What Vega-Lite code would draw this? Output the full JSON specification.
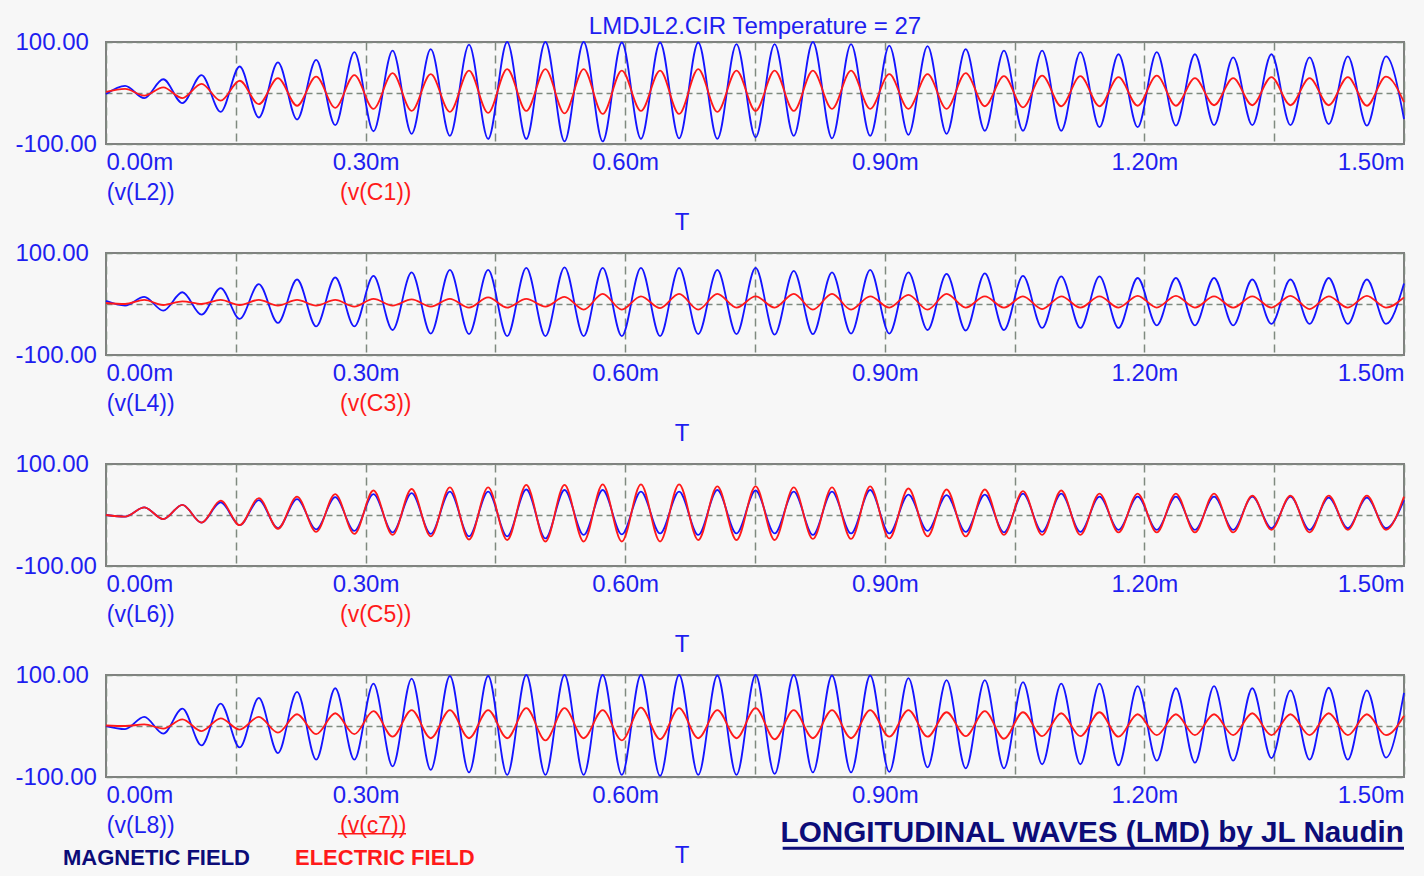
{
  "$schema": "https://vega.github.io/schema/vega-lite/v6.json",
  "autosize": {"type": "pad"},
  "padding": {"left": 14, "top": 14, "right": 19, "bottom": 8},
  "background": "#f7f7f7",
  "config": {
    "font": "Liberation Sans",
    "view": {"stroke": "#808080", "strokeWidth": 2},
    "axis": {"labelFont": "Liberation Sans", "labelFontSize": 24, "labelColor": "#1e1ef0", "domain": false, "ticks": false, "tickSize": 0, "gridColor": "#7f8a7f", "gridWidth": 1.5, "labelOverlap": false},
    "axisX": {"labelPadding": 6, "labelFlush": true, "gridDash": [8, 5]},
    "axisY": {"labelAlign": "left", "labelPadding": 91, "labelBaseline": "middle", "labelFlush": false, "gridDash": [6, 4]},
    "title": {"font": "Liberation Sans", "fontSize": 24, "fontWeight": "normal", "color": "#1e1ef0", "offset": -9, "baseline": "alphabetic"}
  },
  "data": {"values": [
{"t":0,"b1":-2,"r1":2,"b2":6,"r2":2,"b3":0,"r3":0,"b4":0,"r4":1},
{"t":0.0221,"b1":14,"r1":8,"b2":-3,"r2":0,"b3":-3,"r3":-3,"b4":-6,"r4":0},
{"t":0.0442,"b1":-10,"r1":-5,"b2":14,"r2":8,"b3":15,"r3":15,"b4":18,"r4":3},
{"t":0.0662,"b1":27,"r1":11,"b2":-13,"r2":-2,"b3":-8,"r3":-8,"b4":-15,"r4":-5},
{"t":0.0883,"b1":-20,"r1":-10,"b2":23,"r2":5,"b3":20,"r3":20,"b4":34,"r4":13},
{"t":0.1104,"b1":35,"r1":18,"b2":-21,"r2":0,"b3":-15,"r3":-15,"b4":-38,"r4":-10},
{"t":0.1325,"b1":-37,"r1":-15,"b2":31,"r2":8,"b3":25,"r3":28,"b4":44,"r4":15},
{"t":0.1545,"b1":52,"r1":24,"b2":-29,"r2":-2,"b3":-20,"r3":-20,"b4":-42,"r4":-7},
{"t":0.1766,"b1":-48,"r1":-22,"b2":39,"r2":8,"b3":29,"r3":33,"b4":55,"r4":18},
{"t":0.1987,"b1":60,"r1":29,"b2":-37,"r2":-3,"b3":-26,"r3":-27,"b4":-53,"r4":-13},
{"t":0.2208,"b1":-52,"r1":-25,"b2":48,"r2":8,"b3":31,"r3":36,"b4":67,"r4":23},
{"t":0.2429,"b1":65,"r1":32,"b2":-44,"r2":-3,"b3":-28,"r3":-33,"b4":-66,"r4":-16},
{"t":0.2649,"b1":-63,"r1":-29,"b2":52,"r2":8,"b3":35,"r3":41,"b4":74,"r4":25},
{"t":0.2870,"b1":80,"r1":35,"b2":-44,"r2":-5,"b3":-31,"r3":-37,"b4":-66,"r4":-16},
{"t":0.3091,"b1":-75,"r1":-31,"b2":55,"r2":10,"b3":41,"r3":48,"b4":83,"r4":29},
{"t":0.3312,"b1":83,"r1":39,"b2":-51,"r2":-3,"b3":-34,"r3":-39,"b4":-79,"r4":-21},
{"t":0.3532,"b1":-80,"r1":-35,"b2":62,"r2":9,"b3":43,"r3":51,"b4":93,"r4":31},
{"t":0.3753,"b1":86,"r1":37,"b2":-58,"r2":-5,"b3":-37,"r3":-42,"b4":-86,"r4":-24},
{"t":0.3974,"b1":-84,"r1":-37,"b2":67,"r2":10,"b3":46,"r3":54,"b4":98,"r4":31},
{"t":0.4195,"b1":95,"r1":44,"b2":-59,"r2":-7,"b3":-42,"r3":-48,"b4":-91,"r4":-24},
{"t":0.4416,"b1":-90,"r1":-39,"b2":67,"r2":13,"b3":46,"r3":54,"b4":98,"r4":31},
{"t":0.4636,"b1":100,"r1":47,"b2":-63,"r2":-7,"b3":-42,"r3":-49,"b4":-96,"r4":-24},
{"t":0.4857,"b1":-90,"r1":-35,"b2":71,"r2":10,"b3":50,"r3":59,"b4":100,"r4":35},
{"t":0.5078,"b1":100,"r1":47,"b2":-63,"r2":-5,"b3":-46,"r3":-52,"b4":-96,"r4":-28},
{"t":0.5299,"b1":-95,"r1":-40,"b2":72,"r2":14,"b3":49,"r3":59,"b4":100,"r4":35},
{"t":0.5520,"b1":100,"r1":47,"b2":-63,"r2":-11,"b3":-39,"r3":-52,"b4":-96,"r4":-24},
{"t":0.5740,"b1":-95,"r1":-41,"b2":71,"r2":20,"b3":49,"r3":60,"b4":100,"r4":31},
{"t":0.5961,"b1":99,"r1":44,"b2":-63,"r2":-11,"b3":-38,"r3":-52,"b4":-96,"r4":-28},
{"t":0.6182,"b1":-90,"r1":-35,"b2":71,"r2":15,"b3":46,"r3":60,"b4":100,"r4":36},
{"t":0.6403,"b1":99,"r1":44,"b2":-63,"r2":-8,"b3":-36,"r3":-52,"b4":-98,"r4":-26},
{"t":0.6623,"b1":-89,"r1":-41,"b2":71,"r2":20,"b3":46,"r3":60,"b4":100,"r4":35},
{"t":0.6844,"b1":99,"r1":47,"b2":-59,"r2":-11,"b3":-39,"r3":-49,"b4":-96,"r4":-24},
{"t":0.7065,"b1":-90,"r1":-37,"b2":67,"r2":20,"b3":49,"r3":56,"b4":99,"r4":31},
{"t":0.7286,"b1":96,"r1":44,"b2":-59,"r2":-7,"b3":-36,"r3":-49,"b4":-96,"r4":-24},
{"t":0.7507,"b1":-87,"r1":-35,"b2":71,"r2":15,"b3":48,"r3":56,"b4":100,"r4":35},
{"t":0.7727,"b1":96,"r1":44,"b2":-60,"r2":-7,"b3":-36,"r3":-49,"b4":-94,"r4":-26},
{"t":0.7948,"b1":-84,"r1":-35,"b2":65,"r2":20,"b3":46,"r3":54,"b4":100,"r4":31},
{"t":0.8169,"b1":100,"r1":44,"b2":-59,"r2":-11,"b3":-39,"r3":-47,"b4":-91,"r4":-24},
{"t":0.8390,"b1":-89,"r1":-31,"b2":62,"r2":20,"b3":46,"r3":54,"b4":99,"r4":31},
{"t":0.8610,"b1":96,"r1":44,"b2":-58,"r2":-11,"b3":-36,"r3":-47,"b4":-91,"r4":-24},
{"t":0.8831,"b1":-84,"r1":-31,"b2":67,"r2":15,"b3":49,"r3":56,"b4":99,"r4":31},
{"t":0.9052,"b1":93,"r1":37,"b2":-58,"r2":-7,"b3":-36,"r3":-46,"b4":-90,"r4":-21},
{"t":0.9273,"b1":-82,"r1":-31,"b2":62,"r2":18,"b3":40,"r3":52,"b4":94,"r4":31},
{"t":0.9494,"b1":92,"r1":37,"b2":-51,"r2":-11,"b3":-31,"r3":-42,"b4":-81,"r4":-21},
{"t":0.9714,"b1":-80,"r1":-31,"b2":59,"r2":20,"b3":39,"r3":50,"b4":90,"r4":27},
{"t":0.9935,"b1":86,"r1":39,"b2":-52,"r2":-7,"b3":-33,"r3":-42,"b4":-83,"r4":-20},
{"t":1.0156,"b1":-74,"r1":-26,"b2":60,"r2":15,"b3":40,"r3":50,"b4":90,"r4":29},
{"t":1.0377,"b1":83,"r1":33,"b2":-51,"r2":-7,"b3":-34,"r3":-39,"b4":-83,"r4":-25},
{"t":1.0597,"b1":-74,"r1":-28,"b2":55,"r2":15,"b3":42,"r3":47,"b4":86,"r4":27},
{"t":1.0818,"b1":83,"r1":34,"b2":-47,"r2":-10,"b3":-33,"r3":-39,"b4":-75,"r4":-20},
{"t":1.1039,"b1":-74,"r1":-26,"b2":54,"r2":15,"b3":42,"r3":48,"b4":83,"r4":25},
{"t":1.1260,"b1":80,"r1":33,"b2":-47,"r2":-7,"b3":-33,"r3":-39,"b4":-75,"r4":-20},
{"t":1.1481,"b1":-67,"r1":-26,"b2":54,"r2":15,"b3":36,"r3":42,"b4":83,"r4":27},
{"t":1.1701,"b1":76,"r1":31,"b2":-47,"r2":-7,"b3":-29,"r3":-34,"b4":-77,"r4":-21},
{"t":1.1922,"b1":-67,"r1":-25,"b2":51,"r2":16,"b3":36,"r3":42,"b4":78,"r4":23},
{"t":1.2143,"b1":80,"r1":34,"b2":-42,"r2":-7,"b3":-29,"r3":-34,"b4":-68,"r4":-18},
{"t":1.2364,"b1":-64,"r1":-25,"b2":51,"r2":16,"b3":36,"r3":42,"b4":74,"r4":23},
{"t":1.2584,"b1":76,"r1":29,"b2":-42,"r2":-7,"b3":-29,"r3":-34,"b4":-72,"r4":-18},
{"t":1.2805,"b1":-63,"r1":-24,"b2":51,"r2":15,"b3":36,"r3":42,"b4":78,"r4":23},
{"t":1.3026,"b1":70,"r1":29,"b2":-42,"r2":-7,"b3":-29,"r3":-34,"b4":-68,"r4":-18},
{"t":1.3247,"b1":-63,"r1":-24,"b2":48,"r2":15,"b3":36,"r3":38,"b4":74,"r4":25},
{"t":1.3468,"b1":76,"r1":31,"b2":-39,"r2":-7,"b3":-26,"r3":-29,"b4":-63,"r4":-18},
{"t":1.3688,"b1":-63,"r1":-24,"b2":48,"r2":16,"b3":36,"r3":38,"b4":70,"r4":23},
{"t":1.3909,"b1":70,"r1":29,"b2":-39,"r2":-10,"b3":-29,"r3":-34,"b4":-66,"r4":-18},
{"t":1.4130,"b1":-61,"r1":-24,"b2":51,"r2":15,"b3":34,"r3":38,"b4":75,"r4":25},
{"t":1.4351,"b1":72,"r1":31,"b2":-39,"r2":-7,"b3":-26,"r3":-29,"b4":-66,"r4":-18},
{"t":1.4571,"b1":-64,"r1":-25,"b2":48,"r2":16,"b3":34,"r3":38,"b4":70,"r4":23},
{"t":1.4792,"b1":72,"r1":32,"b2":-39,"r2":-7,"b3":-26,"r3":-29,"b4":-62,"r4":-18},
{"t":1.5,"b1":-51,"r1":-18,"b2":40,"r2":13,"b3":29,"r3":36,"b4":65,"r4":20}
  ]},
  "spacing": 109,
  "bounds": "flush",
  "vconcat": [
    {
      "width": 1298, "height": 102,
      "title": {"text": "LMDJL2.CIR Temperature = 27"},
      "layer": [
        {"mark": {"type": "line", "color": "#1414ff", "strokeWidth": 1.8, "interpolate": "monotone"},
         "encoding": {
           "x": {"field": "t", "type": "quantitative", "title": null, "scale": {"domain": [0, 1.5], "nice": false, "zero": false},
                 "axis": {"values": [0, 0.15, 0.3, 0.45, 0.6, 0.75, 0.9, 1.05, 1.2, 1.35, 1.5], "labelExpr": "round(datum.value*100) % 30 === 0 ? format(datum.value, '.2f') + 'm' : ''", "grid": true}},
           "y": {"field": "b1", "type": "quantitative", "title": null, "scale": {"domain": [-100, 100], "nice": false, "zero": false},
                 "axis": {"values": [-100, 0, 100], "labelExpr": "datum.value === 0 ? '' : (datum.value > 0 ? '100.00' : '-100.00')", "grid": true}}
         }},
        {"mark": {"type": "line", "color": "#ff1a1a", "strokeWidth": 1.8, "interpolate": "monotone"},
         "encoding": {"x": {"field": "t", "type": "quantitative", "title": null}, "y": {"field": "r1", "type": "quantitative", "title": null}}},
        {"data": {"values": [{}]}, "mark": {"type": "text", "text": "(v(L2))", "align": "left", "baseline": "alphabetic", "fontSize": 23, "color": "#1e1ef0"},
         "encoding": {"x": {"datum": 0.001, "type": "quantitative", "title": null}, "y": {"datum": -209.8, "type": "quantitative", "title": null}}},
        {"data": {"values": [{}]}, "mark": {"type": "text", "text": "(v(C1))", "align": "left", "baseline": "alphabetic", "fontSize": 23, "color": "#ff1a1a"},
         "encoding": {"x": {"datum": 0.2704, "type": "quantitative", "title": null}, "y": {"datum": -209.8, "type": "quantitative", "title": null}}},
        {"data": {"values": [{}]}, "mark": {"type": "text", "text": "T", "align": "center", "baseline": "alphabetic", "fontSize": 24, "color": "#1e1ef0"},
         "encoding": {"x": {"datum": 0.6657, "type": "quantitative", "title": null}, "y": {"datum": -268.6, "type": "quantitative", "title": null}}}
      ]
    },
    {
      "width": 1298, "height": 102,
      "layer": [
        {"mark": {"type": "line", "color": "#1414ff", "strokeWidth": 1.8, "interpolate": "monotone"},
         "encoding": {
           "x": {"field": "t", "type": "quantitative", "title": null, "scale": {"domain": [0, 1.5], "nice": false, "zero": false},
                 "axis": {"values": [0, 0.15, 0.3, 0.45, 0.6, 0.75, 0.9, 1.05, 1.2, 1.35, 1.5], "labelExpr": "round(datum.value*100) % 30 === 0 ? format(datum.value, '.2f') + 'm' : ''", "grid": true}},
           "y": {"field": "b2", "type": "quantitative", "title": null, "scale": {"domain": [-100, 100], "nice": false, "zero": false},
                 "axis": {"values": [-100, 0, 100], "labelExpr": "datum.value === 0 ? '' : (datum.value > 0 ? '100.00' : '-100.00')", "grid": true}}
         }},
        {"mark": {"type": "line", "color": "#ff1a1a", "strokeWidth": 1.8, "interpolate": "monotone"},
         "encoding": {"x": {"field": "t", "type": "quantitative", "title": null}, "y": {"field": "r2", "type": "quantitative", "title": null}}},
        {"data": {"values": [{}]}, "mark": {"type": "text", "text": "(v(L4))", "align": "left", "baseline": "alphabetic", "fontSize": 23, "color": "#1e1ef0"},
         "encoding": {"x": {"datum": 0.001, "type": "quantitative", "title": null}, "y": {"datum": -209.8, "type": "quantitative", "title": null}}},
        {"data": {"values": [{}]}, "mark": {"type": "text", "text": "(v(C3))", "align": "left", "baseline": "alphabetic", "fontSize": 23, "color": "#ff1a1a"},
         "encoding": {"x": {"datum": 0.2704, "type": "quantitative", "title": null}, "y": {"datum": -209.8, "type": "quantitative", "title": null}}},
        {"data": {"values": [{}]}, "mark": {"type": "text", "text": "T", "align": "center", "baseline": "alphabetic", "fontSize": 24, "color": "#1e1ef0"},
         "encoding": {"x": {"datum": 0.6657, "type": "quantitative", "title": null}, "y": {"datum": -268.6, "type": "quantitative", "title": null}}}
      ]
    },
    {
      "width": 1298, "height": 102,
      "layer": [
        {"mark": {"type": "line", "color": "#1414ff", "strokeWidth": 1.8, "interpolate": "monotone"},
         "encoding": {
           "x": {"field": "t", "type": "quantitative", "title": null, "scale": {"domain": [0, 1.5], "nice": false, "zero": false},
                 "axis": {"values": [0, 0.15, 0.3, 0.45, 0.6, 0.75, 0.9, 1.05, 1.2, 1.35, 1.5], "labelExpr": "round(datum.value*100) % 30 === 0 ? format(datum.value, '.2f') + 'm' : ''", "grid": true}},
           "y": {"field": "b3", "type": "quantitative", "title": null, "scale": {"domain": [-100, 100], "nice": false, "zero": false},
                 "axis": {"values": [-100, 0, 100], "labelExpr": "datum.value === 0 ? '' : (datum.value > 0 ? '100.00' : '-100.00')", "grid": true}}
         }},
        {"mark": {"type": "line", "color": "#ff1a1a", "strokeWidth": 1.8, "interpolate": "monotone"},
         "encoding": {"x": {"field": "t", "type": "quantitative", "title": null}, "y": {"field": "r3", "type": "quantitative", "title": null}}},
        {"data": {"values": [{}]}, "mark": {"type": "text", "text": "(v(L6))", "align": "left", "baseline": "alphabetic", "fontSize": 23, "color": "#1e1ef0"},
         "encoding": {"x": {"datum": 0.001, "type": "quantitative", "title": null}, "y": {"datum": -209.8, "type": "quantitative", "title": null}}},
        {"data": {"values": [{}]}, "mark": {"type": "text", "text": "(v(C5))", "align": "left", "baseline": "alphabetic", "fontSize": 23, "color": "#ff1a1a"},
         "encoding": {"x": {"datum": 0.2704, "type": "quantitative", "title": null}, "y": {"datum": -209.8, "type": "quantitative", "title": null}}},
        {"data": {"values": [{}]}, "mark": {"type": "text", "text": "T", "align": "center", "baseline": "alphabetic", "fontSize": 24, "color": "#1e1ef0"},
         "encoding": {"x": {"datum": 0.6657, "type": "quantitative", "title": null}, "y": {"datum": -268.6, "type": "quantitative", "title": null}}}
      ]
    },
    {
      "width": 1298, "height": 102,
      "layer": [
        {"mark": {"type": "line", "color": "#1414ff", "strokeWidth": 1.8, "interpolate": "monotone"},
         "encoding": {
           "x": {"field": "t", "type": "quantitative", "title": null, "scale": {"domain": [0, 1.5], "nice": false, "zero": false},
                 "axis": {"values": [0, 0.15, 0.3, 0.45, 0.6, 0.75, 0.9, 1.05, 1.2, 1.35, 1.5], "labelExpr": "round(datum.value*100) % 30 === 0 ? format(datum.value, '.2f') + 'm' : ''", "grid": true}},
           "y": {"field": "b4", "type": "quantitative", "title": null, "scale": {"domain": [-100, 100], "nice": false, "zero": false},
                 "axis": {"values": [-100, 0, 100], "labelExpr": "datum.value === 0 ? '' : (datum.value > 0 ? '100.00' : '-100.00')", "grid": true}}
         }},
        {"mark": {"type": "line", "color": "#ff1a1a", "strokeWidth": 1.8, "interpolate": "monotone"},
         "encoding": {"x": {"field": "t", "type": "quantitative", "title": null}, "y": {"field": "r4", "type": "quantitative", "title": null}}},
        {"data": {"values": [{}]}, "mark": {"type": "text", "text": "(v(L8))", "align": "left", "baseline": "alphabetic", "fontSize": 23, "color": "#1e1ef0"},
         "encoding": {"x": {"datum": 0.001, "type": "quantitative", "title": null}, "y": {"datum": -209.8, "type": "quantitative", "title": null}}},
        {"data": {"values": [{}]}, "mark": {"type": "text", "text": "(v(c7))", "align": "left", "baseline": "alphabetic", "fontSize": 23, "color": "#ff1a1a"},
         "encoding": {"x": {"datum": 0.2704, "type": "quantitative", "title": null}, "y": {"datum": -209.8, "type": "quantitative", "title": null}}},
        {"data": {"values": [{}]}, "mark": {"type": "rule", "color": "#ff1a1a", "strokeWidth": 1.5},
         "encoding": {"x": {"datum": 0.268, "type": "quantitative", "title": null}, "x2": {"datum": 0.3467}, "y": {"datum": -211.5, "type": "quantitative", "title": null}}},
        {"data": {"values": [{}]}, "mark": {"type": "text", "text": "T", "align": "center", "baseline": "alphabetic", "fontSize": 24, "color": "#1e1ef0"},
         "encoding": {"x": {"datum": 0.6657, "type": "quantitative", "title": null}, "y": {"datum": -268.6, "type": "quantitative", "title": null}}},
        {"data": {"values": [{}]}, "mark": {"type": "text", "text": "MAGNETIC FIELD", "align": "left", "baseline": "alphabetic", "fontSize": 22, "fontWeight": "bold", "color": "#0c0c78"},
         "encoding": {"x": {"datum": -0.0497, "type": "quantitative", "title": null}, "y": {"datum": -272.5, "type": "quantitative", "title": null}}},
        {"data": {"values": [{}]}, "mark": {"type": "text", "text": "ELECTRIC FIELD", "align": "left", "baseline": "alphabetic", "fontSize": 22, "fontWeight": "bold", "color": "#ff1a1a"},
         "encoding": {"x": {"datum": 0.2184, "type": "quantitative", "title": null}, "y": {"datum": -272.5, "type": "quantitative", "title": null}}},
        {"data": {"values": [{}]}, "mark": {"type": "text", "text": "LONGITUDINAL WAVES (LMD) by JL Naudin", "align": "right", "baseline": "alphabetic", "fontSize": 29.7, "fontWeight": "bold", "color": "#0c0c78"},
         "encoding": {"x": {"datum": 1.5, "type": "quantitative", "title": null}, "y": {"datum": -227.5, "type": "quantitative", "title": null}}},
        {"data": {"values": [{}]}, "mark": {"type": "rule", "color": "#0c0c78", "strokeWidth": 3},
         "encoding": {"x": {"datum": 0.782, "type": "quantitative", "title": null}, "x2": {"datum": 1.5}, "y": {"datum": -239.8, "type": "quantitative", "title": null}}}
      ]
    }
  ]
}
